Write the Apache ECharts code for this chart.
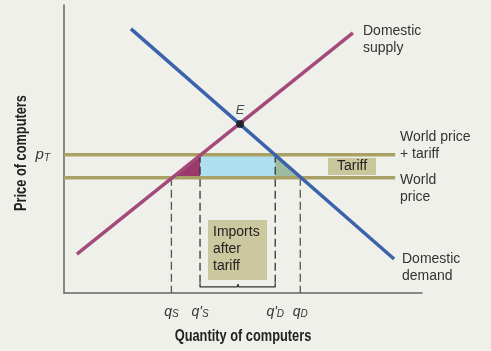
<!DOCTYPE html>
<html>
<head>
<meta charset="utf-8">
<script src="https://cdn.jsdelivr.net/npm/echarts@6/dist/echarts.min.js"></script>
<style>
  html, body { margin: 0; padding: 0; background: #f0f0eb; }
  #main { width: 491px; height: 351px; }
</style>
</head>
<body>
<div id="main"></div>
<script>
// curves (quantity, price on a 0-100 scale)
var demandQ = [18.7, 92.2];
var demandP = [91.7, 11.8];
var supplyQ = [3.6, 80.7];
var supplyP = [13.5, 90.3];
var equilibrium = [49.2, 58.7];

// prices
var worldPrice = 40;
var tariffPrice = 48;
var priceLineEnd = 92.5;

// quantities marked on the x axis: qS, q'S, q'D, qD
var tickQ = [30, 38, 59, 66];
var tickNames = ['qS', "q'S", "q'D", 'qD'];

var qS = tickQ[0], qS2 = tickQ[1], qD2 = tickQ[2], qD = tickQ[3];

var font = "'Liberation Sans', Arial, sans-serif";

function pairs(xs, ys) {
    var out = [];
    for (var i = 0; i < xs.length; i++) out.push([xs[i], ys[i]]);
    return out;
}

function polygon(name, pts, color) {
    return {
        name: name,
        type: 'custom',
        silent: true,
        z: 1,
        data: [[pts[0][0], pts[0][1]]],
        renderItem: function (params, api) {
            return {
                type: 'polygon',
                shape: { points: pts.map(function (p) { return api.coord(p); }) },
                style: { fill: color }
            };
        }
    };
}

function segment(name, pts, color, width, dash, z) {
    return {
        name: name,
        type: 'line',
        data: pts,
        symbol: 'none',
        silent: true,
        z: z || 3,
        lineStyle: { color: color, width: width, type: dash ? [8, 4] : 'solid', cap: 'butt' }
    };
}

var qRich = {
    q: { fontFamily: font, fontStyle: 'italic', fontSize: 14, color: '#333', lineHeight: 16, verticalAlign: 'bottom' },
    s: { fontFamily: font, fontStyle: 'italic', fontSize: 10, color: '#333', lineHeight: 8, verticalAlign: 'bottom' }
};

var dom = document.getElementById('main');
var myChart = echarts.init(dom);
var option = {
    backgroundColor: '#f0f0eb',
    animation: false,
    grid: { left: 64, right: 69, top: 5, bottom: 58 },
    xAxis: {
        type: 'value',
        min: 0,
        max: 100,
        axisLine: { show: true, lineStyle: { color: '#666', width: 1.5 } },
        axisTick: { show: false },
        splitLine: { show: false },
        axisLabel: {
            customValues: tickQ,
            margin: 10,
            formatter: function (v) {
                var i = tickQ.indexOf(v);
                var n = tickNames[i];
                return '{q|' + n.slice(0, n.length - 1) + '}{s|' + n.slice(-1) + '}';
            },
            rich: qRich
        }
    },
    yAxis: {
        type: 'value',
        min: 0,
        max: 100,
        axisLine: { show: true, lineStyle: { color: '#666', width: 1.5 } },
        axisTick: { show: false },
        splitLine: { show: false },
        axisLabel: {
            customValues: [tariffPrice],
            margin: 14,
            formatter: function () { return '{q|p}{s|T}'; },
            rich: {
                q: { fontFamily: font, fontStyle: 'italic', fontSize: 15, color: '#333', lineHeight: 16, verticalAlign: 'bottom' },
                s: { fontFamily: font, fontStyle: 'italic', fontSize: 10, color: '#333', lineHeight: 9, verticalAlign: 'bottom' }
            }
        }
    },
    series: [
        polygon('import gap', [[qS2, tariffPrice], [qD2, tariffPrice], [qD2, worldPrice], [qS2, worldPrice]], '#aee0f2'),
        polygon('producer loss', [[qS, worldPrice], [qS2, tariffPrice], [qS2, worldPrice]], '#9a3b6b'),
        polygon('consumer loss', [[qD2, tariffPrice], [qD2, worldPrice], [qD, worldPrice]], '#9dbb9e'),

        segment('qS', [[qS, worldPrice], [qS, 0]], '#555', 1.3, true, 2),
        segment('qD', [[qD, worldPrice], [qD, 0]], '#555', 1.3, true, 2),
        segment("q'S", [[qS2, tariffPrice], [qS2, 2.1]], '#333', 1.3, true, 2),
        segment("q'D", [[qD2, tariffPrice], [qD2, 2.1]], '#333', 1.3, true, 2),
        segment('bracket', [[qS2, 3.4], [qS2, 2.1], [48.4, 2.1], [48.6, 3.1], [48.8, 2.1], [qD2, 2.1], [qD2, 3.4]], '#333', 1.3, false, 2),

        segment('world price + tariff', [[0, tariffPrice], [priceLineEnd, tariffPrice]], '#a8a163', 3.5, false, 3),
        segment('world price', [[0, worldPrice], [priceLineEnd, worldPrice]], '#a8a163', 3.5, false, 3),

        segment('Domestic supply', pairs(supplyQ, supplyP), '#a24b7b', 3.5, false, 4),
        segment('Domestic demand', pairs(demandQ, demandP), '#3b63ab', 3.5, false, 5),
        {
            name: 'E',
            type: 'scatter',
            data: [equilibrium],
            symbolSize: 8,
            z: 6,
            itemStyle: { color: '#111' },
            label: {
                show: true,
                position: 'top',
                distance: 3,
                formatter: 'E',
                fontFamily: font,
                fontStyle: 'italic',
                fontSize: 13,
                color: '#222'
            }
        }
    ],
    graphic: [
        // axis titles, squeezed to look like the condensed bold face of the original
        { type: 'text', x: 243, y: 337, scaleX: 0.8, style: { text: 'Quantity of computers', font: 'bold 16px ' + font, fill: '#222', textAlign: 'center', textVerticalAlign: 'middle' } },
        { type: 'text', x: 22, y: 153, rotation: Math.PI / 2, scaleX: 0.8, style: { text: 'Price of computers', font: 'bold 16px ' + font, fill: '#222', textAlign: 'center', textVerticalAlign: 'middle' } },

        { type: 'text', left: 363, top: 23, style: { text: 'Domestic\nsupply', font: '14px ' + font, fill: '#333', lineHeight: 17 } },
        { type: 'text', left: 400, top: 129, style: { text: 'World price\n+ tariff', font: '14px ' + font, fill: '#333', lineHeight: 17 } },
        { type: 'text', left: 400, top: 172, style: { text: 'World\nprice', font: '14px ' + font, fill: '#333', lineHeight: 17 } },
        { type: 'text', left: 402, top: 251, style: { text: 'Domestic\ndemand', font: '14px ' + font, fill: '#333', lineHeight: 17 } },
        { type: 'rect', left: 328, top: 158, shape: { width: 48, height: 17 }, style: { fill: '#cac69c' }, z: 10 },
        { type: 'text', left: 337, top: 159, style: { text: 'Tariff', font: '14px ' + font, fill: '#222' }, z: 11 },
        { type: 'rect', left: 208, top: 220, shape: { width: 59, height: 60 }, style: { fill: '#cbc79f' }, z: 10 },
        { type: 'text', left: 213, top: 224, style: { text: 'Imports\nafter\ntariff', font: '14px ' + font, fill: '#222', lineHeight: 17 }, z: 11 }
    ]
};
if (option && typeof option === "object") {
    myChart.setOption(option, true);
}
</script>
</body>
</html>
